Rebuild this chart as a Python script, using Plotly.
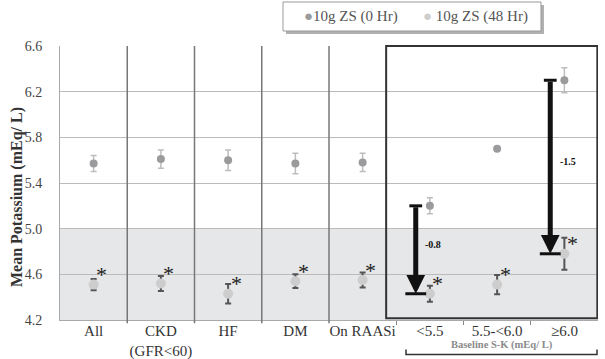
import plotly.graph_objects as go

# ---- data ----
categories = ["All", "CKD<br>(GFR<60)", "HF", "DM", "On RAASi", "<5.5", "5.5-<6.0", "≥6.0"]
series_names = ["10g ZS (0 Hr)", "10g ZS (48 Hr)"]
k_0hr = [5.57, 5.61, 5.60, 5.57, 5.58, 5.20, 5.70, 6.30]
err_0hr = [0.07, 0.08, 0.09, 0.09, 0.08, 0.07, 0.0, 0.11]
k_48hr = [4.51, 4.52, 4.43, 4.54, 4.55, 4.43, 4.51, 4.78]
err_48hr = [0.05, 0.065, 0.085, 0.06, 0.065, 0.07, 0.085, 0.14]
arrow_idx = [5, 7]
y_ticks = [4.2, 4.6, 5.0, 5.4, 5.8, 6.2, 6.6]
normal_upper = 5.0
subgroup_title = "Baseline S-K (mEq/ L)"
y_title = "Mean Potassium (mEq/ L)"

SERIF = "Liberation Serif"
C0 = "#9b9b9d"
C48 = "#cdcdcd"

xs = [i + 0.5 for i in range(len(categories))]

fig = go.Figure()
fig.add_trace(go.Scatter(
    x=xs, y=k_0hr, mode="markers", name=series_names[0], showlegend=False,
    marker=dict(color=C0, size=8),
    error_y=dict(type="data", array=err_0hr, color="#bdbdbd", thickness=1.5, width=3),
))
fig.add_trace(go.Scatter(
    x=xs, y=k_48hr, mode="markers", name=series_names[1], showlegend=False,
    marker=dict(color=C48, size=10),
    error_y=dict(type="data", array=err_48hr, color="#555555", thickness=2, width=3),
))

shapes = []
# normal-range band
shapes.append(dict(type="rect", xref="paper", yref="y", x0=0, x1=1, y0=y_ticks[0], y1=normal_upper,
                   fillcolor="#e6e7e9", line=dict(width=0), layer="below"))
# separators between the first groups
for b in range(1, 5):
    shapes.append(dict(type="line", xref="x", yref="paper", x0=b, x1=b, y0=-0.012, y1=1,
                       line=dict(color="#777777", width=1.5)))
# box around baseline subgroups
shapes.append(dict(type="rect", xref="x", yref="paper", x0=4.85, x1=7.99, y0=0.006, y1=1,
                   line=dict(color="#333333", width=2), fillcolor="rgba(0,0,0,0)"))
# bracket under baseline subgroups
shapes.append(dict(type="path", xref="x", yref="paper",
                   path="M5.145,-0.108 L5.145,-0.126 L7.985,-0.126 L7.985,-0.108",
                   line=dict(color="#333333", width=1.5)))
# legend box with shadow
shapes.append(dict(type="rect", xref="paper", yref="paper", x0=0.4200, x1=0.8996, y0=1.0438, y1=1.1496,
                   fillcolor="#b0b0b0", line=dict(width=0)))
shapes.append(dict(type="rect", xref="paper", yref="paper", x0=0.4145, x1=0.8940, y0=1.0547, y1=1.1606,
                   fillcolor="white", line=dict(color="#9a9a9a", width=1)))

annotations = []
# arrows showing the change
for i in arrow_idx:
    xa = xs[i] - 0.21
    top, bot = k_0hr[i], k_48hr[i]
    shapes.append(dict(type="line", xref="x", yref="y", x0=xa - 0.095, x1=xa + 0.095, y0=top, y1=top,
                       line=dict(color="#111111", width=3)))
    shapes.append(dict(type="line", xref="x", yref="y", x0=xa - 0.155, x1=xa + 0.155, y0=bot, y1=bot,
                       line=dict(color="#111111", width=3)))
    annotations.append(dict(x=xa, y=bot, ax=xa, ay=top, xref="x", yref="y", axref="x", ayref="y",
                            text="", showarrow=True, arrowhead=2, arrowsize=0.75, arrowwidth=5,
                            arrowcolor="#111111", standoff=0))
    annotations.append(dict(x=xs[i] + 0.05, y=(top + bot) / 2 + 0.05, xref="x", yref="y",
                            xanchor="center", yanchor="middle",
                            text=f"<b>{bot - top:.1f}</b>", showarrow=False,
                            font=dict(family=SERIF, size=10, color="#111111")))
# significance asterisks
for x, y in zip(xs, k_48hr):
    annotations.append(dict(x=x, y=y, xref="x", yref="y", text="*", showarrow=False,
                            xanchor="center", yanchor="middle",
                            xshift=8, yshift=10, font=dict(family=SERIF, size=22, color="#222222")))
# subgroup title
annotations.append(dict(x=6.565, y=-0.09, xref="x", yref="paper", text=f"<b>{subgroup_title}</b>",
                        xanchor="center", yanchor="middle",
                        showarrow=False, font=dict(family=SERIF, size=10.5, color="#8a8a8a")))
# y-axis title
annotations.append(dict(x=(17 - 60) / 538, y=(320 - 197) / 274, xref="paper", yref="paper",
                        xanchor="center", yanchor="middle", textangle=-90,
                        text=f"<b>{y_title}</b>", showarrow=False,
                        font=dict(family=SERIF, size=16, color="#333333")))
# legend entries
annotations.append(dict(x=(302 - 60) / 538, y=1.109, xref="paper", yref="paper",
                        xanchor="left", yanchor="middle",
                        text=f"<span style='color:{C0}'>●</span>{series_names[0]}", showarrow=False,
                        font=dict(family=SERIF, size=15, color="#555555")))
annotations.append(dict(x=(421 - 60) / 538, y=1.109, xref="paper", yref="paper",
                        xanchor="left", yanchor="middle",
                        text=f"<span style='color:{C48}'>●</span> {series_names[1]}", showarrow=False,
                        font=dict(family=SERIF, size=15, color="#555555")))

fig.update_layout(
    width=605, height=359,
    margin=dict(l=60, r=7, t=46, b=39, autoexpand=False),
    paper_bgcolor="white", plot_bgcolor="white",
    font=dict(family=SERIF, size=15, color="#333333"),
    shapes=shapes, annotations=annotations,
    showlegend=False,
)
fig.update_xaxes(
    range=[0, len(categories)], tickvals=xs, ticktext=categories, ticks="",
    showgrid=False, zeroline=False, showline=True, linecolor="#aaaaaa", linewidth=1,
    automargin=False, ticklabelstandoff=-3,
    tickfont=dict(family=SERIF, size=15, color="#333333"),
    minor=dict(tickvals=[5, 6, 7], ticks="outside", ticklen=4, tickcolor="#888888"),
)
fig.update_yaxes(
    range=[y_ticks[0], y_ticks[-1]], tickvals=y_ticks, ticktext=[f"{v:.1f}" for v in y_ticks],
    showgrid=True, gridcolor="#bbbbbb", gridwidth=1, zeroline=False, automargin=False,
    showline=True, linecolor="#aaaaaa", linewidth=1, ticks="", ticklabelstandoff=14,
    tickfont=dict(family=SERIF, size=14, color="#444444"),
)

fig.write_html("out.html", config={"displayModeBar": False},
               post_script="document.body.style.margin='0px';document.body.style.overflow='hidden';")
